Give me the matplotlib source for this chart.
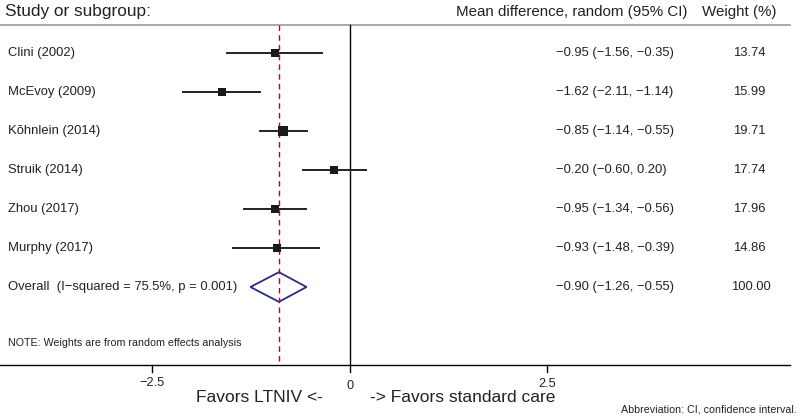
import matplotlib
matplotlib.use("Agg")
import matplotlib.pyplot as plt
from matplotlib.patches import Polygon
import numpy as np

plt.rcParams['font.family'] = ['Liberation Sans', 'DejaVu Sans']

studies = ["Clini (2002)", "McEvoy (2009)", "Kōhnlein (2014)", "Struik (2014)",
           "Zhou (2017)", "Murphy (2017)"]
md = [-0.95, -1.62, -0.85, -0.20, -0.95, -0.93]
lo = [-1.56, -2.11, -1.14, -0.60, -1.34, -1.48]
hi = [-0.35, -1.14, -0.55, 0.20, -0.56, -0.39]
weights = [13.74, 15.99, 19.71, 17.74, 17.96, 14.86]
overall_label = "Overall  (I\u2212squared = 75.5%, p = 0.001)"
overall_md, overall_lo, overall_hi, overall_w = -0.90, -1.26, -0.55, 100.00
xticks = [-2.5, 0, 2.5]
xticklabels = ["\u22122.5", "0", "2.5"]

W, H = 800, 417
fig = plt.figure(figsize=(W / 100, H / 100), dpi=100)
ax = fig.add_axes([0, 0, 1, 1])
ax.axis('off')

ppu = 79.0  # pixels per unit
x0px = 350.0
ax.set_xlim(-x0px / ppu, (W - x0px) / ppu)
row0, rowstep = 53.0, 39.0
ax.set_ylim((H - row0) / rowstep, (0 - row0) / rowstep)

def px2x(p):
    return (p - x0px) / ppu

def py2y(p):
    return (p - row0) / rowstep

top_y = py2y(25)
axis_y = py2y(365)
xmin_line, xmax_line = px2x(0), px2x(790)

fmt = lambda v: f"{v:.2f}".replace("-", "\u2212")
tc = '#222222'
fs = 9.4

# header
ax.text(px2x(5), py2y(11), "Study or subgroup:", fontsize=12.4, va='center', ha='left', color=tc)
ax.text(px2x(688), py2y(12), "Mean difference, random (95% CI)", fontsize=10.9, va='center', ha='right', color=tc)
ax.text(px2x(702), py2y(12), "Weight (%)", fontsize=10.9, va='center', ha='left', color=tc)
ax.plot([xmin_line, xmax_line], [top_y, top_y], color='#9a9a9a', lw=1.2)

# zero line and overall dashed line
ax.plot([0, 0], [top_y, axis_y], color='black', lw=1.0)
ax.plot([overall_md, overall_md], [top_y, axis_y], color='#9b1030', lw=1.0, ls=(0, (4, 3)))

# studies
for i, (s, m, l, h, w) in enumerate(zip(studies, md, lo, hi, weights)):
    ax.plot([l, h], [i, i], color='#222222', lw=1.4)
    ms = 2.05 * np.sqrt(w) * 0.72
    ax.plot([m], [i], marker='s', color='#1a1a1a', ms=ms, mew=0)
    ax.text(px2x(8), i, s, fontsize=fs, va='center', ha='left', color=tc)
    ax.text(px2x(556), i, f"{fmt(m)} ({fmt(l)}, {fmt(h)})", fontsize=fs, va='center', ha='left', color=tc)
    ax.text(px2x(733), i, f"{w:.2f}", fontsize=fs, va='center', ha='left', color=tc)

# overall
oi = len(studies)
dh = 0.38
diamond = Polygon([[overall_lo, oi], [overall_md, oi - dh], [overall_hi, oi], [overall_md, oi + dh]],
                  closed=True, fill=False, edgecolor='#2b2b84', lw=1.3)
ax.add_patch(diamond)
ax.text(px2x(8), oi, overall_label, fontsize=fs, va='center', ha='left', color=tc)
ax.text(px2x(556), oi, f"{fmt(overall_md)} ({fmt(overall_lo)}, {fmt(overall_hi)})", fontsize=fs, va='center', ha='left', color=tc)
ax.text(px2x(731), oi, f"{overall_w:.2f}", fontsize=fs, va='center', ha='left', color=tc)

ax.text(px2x(8), py2y(343), "NOTE: Weights are from random effects analysis", fontsize=7.7, va='center', ha='left', color=tc)

# axis
ax.plot([xmin_line, xmax_line], [axis_y, axis_y], color='black', lw=1.0)
tick_dy = [383, 386, 384]
for t, lab, ty in zip(xticks, xticklabels, tick_dy):
    ax.plot([t, t], [axis_y, py2y(372)], color='black', lw=1.0)
    ax.text(t, py2y(ty), lab, fontsize=9.2, va='center', ha='center', color=tc)

ax.text(px2x(323), py2y(398), "Favors LTNIV <-", fontsize=12.5, va='center', ha='right', color=tc)
ax.text(px2x(370), py2y(398), "-> Favors standard care", fontsize=12.5, va='center', ha='left', color=tc)
ax.text(px2x(797), py2y(410), "Abbreviation: CI, confidence interval.", fontsize=7.7, va='center', ha='right', color=tc)

fig.savefig("out.png", dpi=100)
